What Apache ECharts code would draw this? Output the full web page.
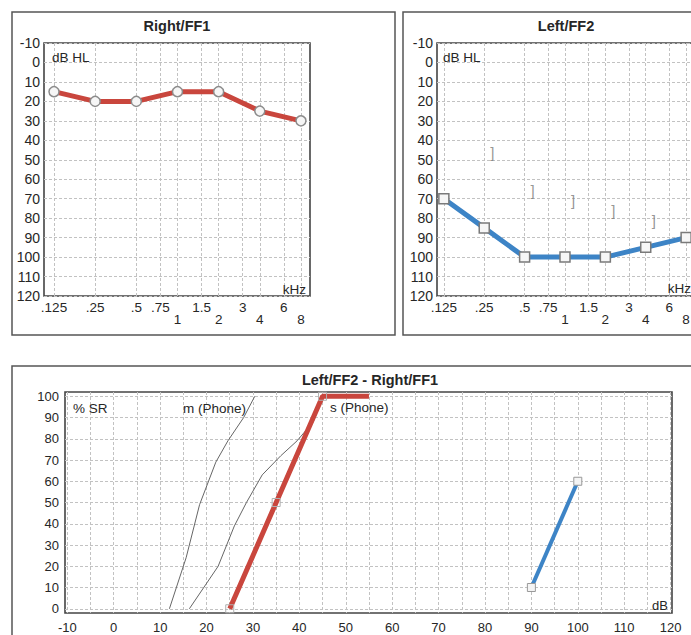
<!DOCTYPE html>
<html><head><meta charset="utf-8">
<script src="https://cdn.jsdelivr.net/npm/echarts@6/dist/echarts.min.js"></script>
<style>html,body{margin:0;padding:0;background:#fff;overflow:hidden}#c{width:720px;height:635px}</style>
</head><body><div id="c"></div>
<script>
// ---------- data ----------
const freqTicks = [0.125, 0.25, 0.5, 0.75, 1, 1.5, 2, 3, 4, 6, 8];
const freqTickLabels = ['.125', '.25', '.5', '.75', '1', '1.5', '2', '3', '4', '6', '8'];
const freqLowerRow = ['1', '2', '4', '8'];
const testFreqs = [0.125, 0.25, 0.5, 1, 2, 4, 8];
const rightFF1 = [15, 20, 20, 15, 15, 25, 30];
const leftFF2 = [70, 85, 100, 100, 100, 95, 90];
const maskFreqs = [0.25, 0.5, 1, 2, 4];
const maskLevels = [45, 65, 70, 75, 80];

const dbLabelTicks = [-10, 0, 10, 20, 30, 40, 50, 60, 70, 80, 90, 100, 110, 120];
const dbGridTicks = [-10, -5, 0, 5, 10, 15, 20, 25, 30, 35, 40, 45, 50, 55, 60, 65, 70, 75, 80, 85, 90, 95, 100, 105, 110, 115, 120];
const srTicks = [0, 10, 20, 30, 40, 50, 60, 70, 80, 90, 100];
const srLevelsRight = [25, 35, 45, 55];
const srScoresRight = [0, 50, 100, 100];
const srLevelsLeft = [90, 100];
const srScoresLeft = [10, 60];
const mPhoneLevels = [12, 15.6, 18.5, 22, 24.6, 28, 30.4];
const mPhoneScores = [0, 24, 49, 69, 79, 90, 100];
const sPhoneLevels = [16.3, 22.5, 26, 28.6, 32, 36, 39.5, 43, 44.6];
const sPhoneScores = [0, 20, 39, 50, 63, 72, 79, 88, 97];

// ---------- helpers ----------
const FONT = '"Liberation Sans", Arial, sans-serif';
const RED = '#c9463d', BLUE = '#3d84c6', TXT = '#262626';
const oct = f => Math.log2(f / 0.125);
const gridLine = {show: true, lineStyle: {color: '#c2c2c2', type: [3, 2], width: 1}};

function freqAxis(gi, min) {
  const vals = freqTicks.map(oct);
  return {
    type: 'value', gridIndex: gi, min: min, max: 6.22,
    axisLine: {show: false},
    axisTick: {show: false, customValues: vals},
    splitLine: gridLine,
    axisLabel: {
      customValues: vals, hideOverlap: false, margin: 5, fontSize: 13.5, lineHeight: 12,
      color: TXT, fontFamily: FONT,
      formatter: v => {
        let i = vals.findIndex(t => Math.abs(t - v) < 1e-6);
        const t = freqTickLabels[i];
        return freqLowerRow.includes(t) ? '\n' + t : t;
      }
    }
  };
}
function hlAxis(gi) {
  return {
    type: 'value', gridIndex: gi, inverse: true, min: -10, max: 120, interval: 10,
    axisLine: {show: false}, axisTick: {show: false}, splitLine: gridLine,
    axisLabel: {margin: 4, fontSize: 14, color: TXT, fontFamily: FONT}
  };
}
function txt(text, x, y, align, size, bold) {
  return {type: 'text', x: x, y: y, z: 100,
    style: {text: text, fill: TXT, font: (bold ? 'bold ' : '') + size + 'px ' + FONT,
      align: align, verticalAlign: 'middle', textAlign: align, textVerticalAlign: 'middle'}};
}
const frame = {show: true, borderColor: '#444', borderWidth: 1.6, backgroundColor: 'transparent'};

const chart = echarts.init(document.getElementById('c'), null, {renderer: 'svg'});
chart.setOption({
  animation: false,
  backgroundColor: '#fff',
  grid: [
    Object.assign({left: 44, top: 43, width: 266, height: 253}, frame),
    Object.assign({left: 437, top: 43, width: 258, height: 253}, frame),
    Object.assign({left: 65, top: 392, width: 607, height: 221}, frame)
  ],
  xAxis: [
    freqAxis(0, -0.243),
    freqAxis(1, -0.17),
    {
      type: 'value', gridIndex: 2, min: -10.5, max: 120.3,
      axisLine: {show: false},
      axisTick: {show: false, customValues: dbGridTicks},
      splitLine: gridLine,
      axisLabel: {customValues: dbLabelTicks, hideOverlap: false, margin: 8, fontSize: 13, color: TXT, fontFamily: FONT}
    }
  ],
  yAxis: [
    hlAxis(0), hlAxis(1),
    {
      type: 'value', gridIndex: 2, min: -2, max: 102,
      axisLine: {show: false},
      axisTick: {show: false, customValues: srTicks},
      splitLine: gridLine,
      axisLabel: {customValues: srTicks, hideOverlap: false, margin: 6, fontSize: 13, color: TXT, fontFamily: FONT}
    }
  ],
  series: [
    {
      type: 'line', xAxisIndex: 0, yAxisIndex: 0,
      data: testFreqs.map((f, i) => [oct(f), rightFF1[i]]),
      lineStyle: {color: RED, width: 5},
      symbol: 'circle', symbolSize: 10,
      itemStyle: {color: '#f6f6f6', borderColor: '#8c8c8c', borderWidth: 1.5}
    },
    {
      type: 'line', xAxisIndex: 1, yAxisIndex: 1,
      data: testFreqs.map((f, i) => [oct(f), leftFF2[i]]),
      lineStyle: {color: BLUE, width: 5},
      symbol: 'rect', symbolSize: 10,
      itemStyle: {color: '#f6f6f6', borderColor: '#7a7a7a', borderWidth: 1.5}
    },
    {
      type: 'scatter', xAxisIndex: 1, yAxisIndex: 1,
      data: maskFreqs.map((f, i) => [oct(f), maskLevels[i]]),
      symbolSize: 1, itemStyle: {color: 'rgba(0,0,0,0)'},
      label: {show: true, position: 'inside', offset: [8, 2], formatter: ']', color: '#7a7a7a', fontSize: 15, fontFamily: FONT}
    },
    {
      type: 'line', xAxisIndex: 2, yAxisIndex: 2,
      data: mPhoneLevels.map((x, i) => [x, mPhoneScores[i]]),
      lineStyle: {color: '#666', width: 1}, symbol: 'none'
    },
    {
      type: 'line', xAxisIndex: 2, yAxisIndex: 2,
      data: sPhoneLevels.map((x, i) => [x, sPhoneScores[i]]),
      lineStyle: {color: '#666', width: 1}, symbol: 'none'
    },
    {
      type: 'line', xAxisIndex: 2, yAxisIndex: 2,
      data: srLevelsRight.map((x, i) => ({value: [x, srScoresRight[i]], symbol: i === srLevelsRight.length - 1 ? 'none' : 'rect'})),
      lineStyle: {color: RED, width: 5},
      symbol: 'rect', symbolSize: 8,
      itemStyle: {color: 'rgba(255,255,255,0)', borderColor: '#b0b0b0', borderWidth: 1}
    },
    {
      type: 'line', xAxisIndex: 2, yAxisIndex: 2,
      data: srLevelsLeft.map((x, i) => [x, srScoresLeft[i]]),
      lineStyle: {color: BLUE, width: 4},
      symbol: 'rect', symbolSize: 8,
      itemStyle: {color: '#f4f4f4', borderColor: '#999', borderWidth: 1}
    }
  ],
  graphic: [
    {type: 'rect', shape: {x: 12, y: 12, width: 383, height: 323}, style: {fill: 'none', stroke: '#555', lineWidth: 1.5}},
    {type: 'rect', shape: {x: 403, y: 12, width: 400, height: 323}, style: {fill: 'none', stroke: '#555', lineWidth: 1.5}},
    {type: 'rect', shape: {x: 12, y: 366, width: 800, height: 400}, style: {fill: 'none', stroke: '#555', lineWidth: 1.5}},
    txt('Right/FF1', 177, 26, 'center', 14.5, true),
    txt('Left/FF2', 566, 26, 'center', 14.5, true),
    txt('Left/FF2 - Right/FF1', 370, 380, 'center', 14.5, true),
    txt('dB HL', 52, 57, 'left', 13.5, false),
    txt('kHz', 306, 289, 'right', 13.5, false),
    txt('dB HL', 443, 57, 'left', 13.5, false),
    txt('kHz', 691, 288, 'right', 13.5, false),
    txt('% SR', 73, 408, 'left', 13.5, false),
    txt('m (Phone)', 183, 408, 'left', 13.5, false),
    txt('s (Phone)', 330, 407, 'left', 13.5, false),
    txt('dB', 668, 605, 'right', 13, false)
  ]
});
</script></body></html>
